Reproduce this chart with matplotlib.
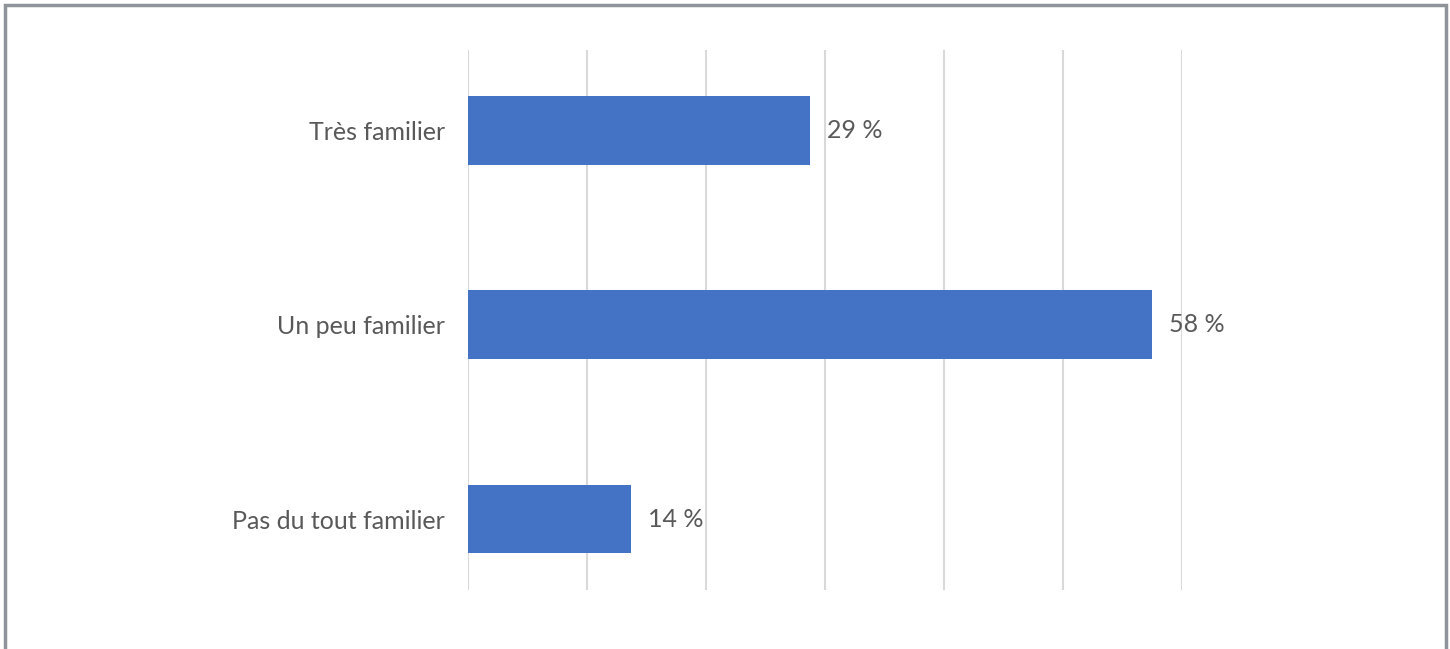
#!/usr/bin/env python3
"""Horizontal bar chart: familiarity levels (percentages)."""

import matplotlib
matplotlib.use("Agg")
import matplotlib.pyplot as plt
from matplotlib.patches import Rectangle

# ─── Data ────────────────────────────────────────────────────────────────────
categories = ["Très familier", "Un peu familier", "Pas du tout familier"]
values = [28.7, 57.5, 13.7]
value_labels = ["29 %", "58 %", "14 %"]
x_ticks = [0, 10, 20, 30, 40, 50, 60]

# ─── Style ───────────────────────────────────────────────────────────────────
BAR_COLOR = "#4472C4"
GRID_COLOR = "#D9D9D9"
TEXT_COLOR = "#595959"
FRAME_COLOR = "#8E9499"
plt.rcParams["font.family"] = ["Lato", "DejaVu Sans"]

W, H, DPI = 1450, 649, 100
fig = plt.figure(figsize=(W / DPI, H / DPI), dpi=DPI)

# axes placed in pixel terms: x 468..1182, y 50..590 (from top)
left, right, top, bottom = 468, 1182, 50, 590
ax = fig.add_axes([left / W, 1 - bottom / H, (right - left) / W, (bottom - top) / H])

y = list(range(len(categories)))
ax.barh(y, values, height=0.354, color=BAR_COLOR, zorder=3)

ax.set_xlim(0, 60)
ax.set_ylim(2.365, -0.415)
ax.set_xticks(x_ticks)
ax.set_xticklabels([])
ax.tick_params(axis="x", length=0)
ax.tick_params(axis="y", length=0, pad=16.5, labelsize=18, labelcolor=TEXT_COLOR)
ax.set_yticks(y)
ax.set_yticklabels(categories)
ax.grid(axis="x", color=GRID_COLOR, linewidth=1.5, zorder=0)
for s in ax.spines.values():
    s.set_visible(False)

for yi, v, lab in zip(y, values, value_labels):
    ax.annotate(lab, (v, yi), xytext=(17, 0), textcoords="offset pixels",
                ha="left", va="center", fontsize=18, color=TEXT_COLOR, zorder=4)

# outer frame (bottom edge runs off the image)
fig.patches.append(Rectangle((5, -10), 1441, 654, transform=None,
                             fill=False, edgecolor=FRAME_COLOR, linewidth=2.5))

fig.savefig("out.png", dpi=DPI)
